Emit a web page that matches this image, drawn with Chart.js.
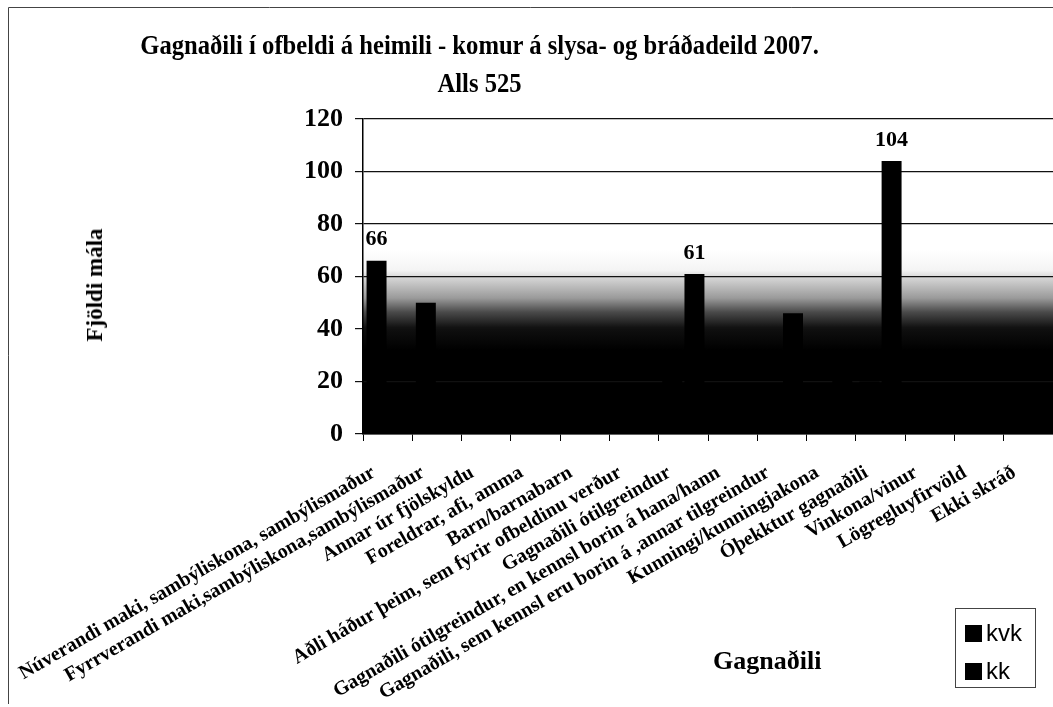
<!DOCTYPE html>
<html>
<head>
<meta charset="utf-8">
<script src="https://cdn.jsdelivr.net/npm/chart.js@4.4.1/dist/chart.umd.min.js"></script>
<style>
  html, body { margin: 0; padding: 0; background: #fff; }
  #wrap { position: relative; width: 1053px; height: 707px; }
  .title { position: absolute; left: 0; width: 960px; text-align: center; font: bold 28px "Liberation Serif"; color: #000;
           transform: scaleX(0.88); transform-origin: 476px 0; line-height: 32px; }
  #ytitle { position: absolute; left: 95px; top: 285px; font: bold 23px "Liberation Serif"; color: #000;
            transform: translate(-50%, -50%) rotate(-90deg); white-space: nowrap; }
  #xtitle { position: absolute; left: 713px; top: 646px; font: bold 26px "Liberation Serif"; color: #000; }
  #legend { position: absolute; left: 955px; top: 608px; width: 81px; height: 80px; border: 1px solid #444;
            font: 24px "Liberation Sans"; color: #000; box-sizing: border-box; }
  #legend div { position: absolute; left: 9px; line-height: 24px; }
  #legend span { display: inline-block; width: 17px; height: 17px; background: #000; margin-right: 4px; vertical-align: -1px; }
</style>
</head>
<body>
<div id="wrap">
  <canvas id="myChart" width="1053" height="707"></canvas>
  <div class="title" style="top:29px">Gagnaðili í ofbeldi á heimili - komur á slysa- og bráðadeild 2007.</div>
  <div class="title" style="top:67px">Alls 525</div>
  <div id="ytitle">Fjöldi mála</div>
  <div id="xtitle">Gagnaðili</div>
  <div id="legend">
    <div style="top:12px"><span></span>kvk</div>
    <div style="top:50px"><span></span>kk</div>
  </div>
</div>
<script>
// data
const categories = [
  "Núverandi maki, sambýliskona, sambýlismaður",
  "Fyrrverandi maki,sambýliskona,sambýlismaður",
  "Annar úr fjölskyldu",
  "Foreldrar, afi, amma",
  "Barn/barnabarn",
  "Aðli háður þeim, sem fyrir ofbeldinu verður",
  "Gagnaðili ótilgreindur",
  "Gagnaðili ótilgreindur, en kennsl borin á hana/hann",
  "Gagnaðili, sem kennsl eru borin á ,annar tilgreindur",
  "Kunningi/kunningjakona",
  "Óþekktur gagnaðili",
  "Vinkona/vinur",
  "Lögregluyfirvöld",
  "Ekki skráð",
];
const kvkValues = [66, 50, 15, 8, 5, 2, 22, 8, 10, 8, 20, 4, 0, 6];
const kkValues = [8, 4, 10, 8, 4, 2, 61, 12, 46, 22, 104, 8, 2, 10];
const yTicks = [0, 20, 40, 60, 80, 100, 120];
const labelMin = 60;

const serif = "Liberation Serif";

// plot background: white at top fading to black near the bottom
const plotBackground = {
  id: "plotBackground",
  beforeDraw(chart) {
    const { ctx, chartArea: a, scales } = chart;
    const y = scales.y;
    const top = y.getPixelForValue(70), bottom = y.getPixelForValue(32);
    const g = ctx.createLinearGradient(0, top, 0, bottom);
    g.addColorStop(0, "#ffffff");
    g.addColorStop(0.2, "#f4f4f4");
    g.addColorStop(0.28, "#d4d4d4");
    g.addColorStop(0.48, "#9a9a9a");
    g.addColorStop(0.62, "#4a4a4a");
    g.addColorStop(0.78, "#101010");
    g.addColorStop(1, "#000000");
    ctx.save();
    ctx.fillStyle = g;
    ctx.fillRect(a.left, a.top, a.right - a.left, a.bottom - a.top);
    ctx.restore();
  },
};

// value labels above the tall bars
const barLabels = {
  id: "barLabels",
  afterDatasetsDraw(chart) {
    const ctx = chart.ctx;
    ctx.save();
    ctx.font = "bold 22px " + serif;
    ctx.fillStyle = "#000";
    ctx.textAlign = "center";
    ctx.textBaseline = "bottom";
    chart.data.datasets.forEach((ds, i) => {
      chart.getDatasetMeta(i).data.forEach((bar, j) => {
        if (ds.data[j] >= labelMin) ctx.fillText(ds.data[j], bar.x, bar.y - 10);
      });
    });
    ctx.restore();
  },
};

// outer frame
const frame = {
  id: "frame",
  afterDraw(chart) {
    const ctx = chart.ctx;
    ctx.save();
    ctx.strokeStyle = "#444";
    ctx.lineWidth = 1;
    ctx.beginPath();
    ctx.moveTo(8.5, 704);
    ctx.lineTo(8.5, 7.5);
    ctx.lineTo(1053, 7.5);
    ctx.stroke();
    ctx.restore();
  },
};

const config = {
  type: "bar",
  data: {
    labels: categories,
    datasets: [
      { label: "kvk", data: kvkValues, backgroundColor: "#000", categoryPercentage: 0.9, barPercentage: 0.9 },
      { label: "kk", data: kkValues, backgroundColor: "#000", categoryPercentage: 0.9, barPercentage: 0.9 },
    ],
  },
  options: {
    responsive: false,
    animation: false,
    layout: { padding: { left: 76, right: 0, top: 119, bottom: 0 } },
    plugins: {
      legend: { display: false },
      tooltip: { enabled: false },
      title: { display: false },
    },
    scales: {
      x: {
        grid: { drawOnChartArea: false, drawTicks: true, tickLength: 7, color: "#000" },
        border: { color: "#000", width: 1.5 },
        ticks: {
          color: "#000",
          font: { family: serif, size: 20, weight: "bold" },
          maxRotation: 30,
          minRotation: 30,
          autoSkip: false,
          padding: 20,
          labelOffset: -14,
        },
        afterFit(scale) {
          scale.height = 273;
          scale.paddingLeft = 0;
          scale.paddingRight = 0;
        },
      },
      y: {
        min: 0,
        max: 120,
        afterBuildTicks(scale) { scale.ticks = yTicks.map(v => ({ value: v })); },
        grid: { color: "#111", lineWidth: 1.2, tickLength: 8 },
        border: { color: "#000", width: 1.5 },
        ticks: { color: "#000", font: { family: serif, size: 26, weight: "bold" }, padding: 12 },
        afterFit(scale) { scale.width = 363 - 76; },
      },
    },
  },
  plugins: [plotBackground, barLabels, frame],
};

const myChart = new Chart(document.getElementById("myChart"), config);
</script>
</body>
</html>
